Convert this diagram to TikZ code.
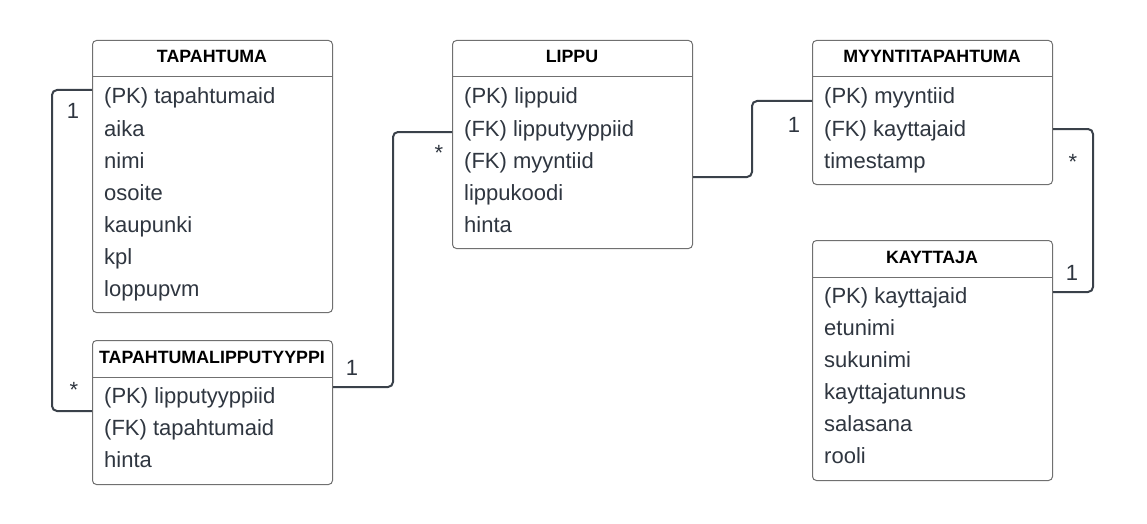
\documentclass[tikz,border=0pt]{standalone}
\usepackage{fontspec}
\setmainfont{Liberation Sans}
\usepackage{xcolor}
\definecolor{rowtext}{HTML}{2F3640}
\definecolor{boxline}{HTML}{707070}
\definecolor{relline}{HTML}{3A414A}
\tikzset{
  table/.style={draw=boxline, line width=1pt, rounded corners=4pt, fill=white,
    minimum width=240pt, inner sep=0pt, anchor=north west},
  title/.style={font=\fontsize{17.8}{20}\selectfont\bfseries, text=black, anchor=base, inner sep=0pt},
  row/.style={font=\fontsize{22}{26}\selectfont, text=rowtext, anchor=base west, inner sep=0pt},
  mult/.style={font=\fontsize{22}{26}\selectfont, text=rowtext, anchor=base, inner sep=0pt},
  relation/.style={draw=relline, line width=2pt, rounded corners=5pt},
}
\begin{document}
\begin{tikzpicture}[x=1pt, y=-1pt]
  \useasboundingbox[fill=white] (0,0) rectangle (1147,524);

  % TAPAHTUMA
  \node[table, minimum height=272pt] (tapahtuma) at (92,40) {};
  \draw[boxline, line width=1pt] (tapahtuma.west |- 0,77) -- (tapahtuma.east |- 0,77);
  \node[title] (tapahtumaT) at (212,63) {TAPAHTUMA};
  \node[row] (tap1) at (104,104) {(PK) tapahtumaid};
  \node[row] (tap2) at (104,136) {aika};
  \node[row] (tap3) at (104,168) {nimi};
  \node[row] (tap4) at (104,200) {osoite};
  \node[row] (tap5) at (104,232) {kaupunki};
  \node[row] (tap6) at (104,264) {kpl};
  \node[row] (tap7) at (104,296) {loppupvm};

  % TAPAHTUMALIPPUTYYPPI
  \node[table, minimum height=144pt] (tlt) at (92,340) {};
  \draw[boxline, line width=1pt] (tlt.west |- 0,377) -- (tlt.east |- 0,377);
  \node[title] (tltT) at (212,363) {TAPAHTUMALIPPUTYYPPI};
  \node[row] (tlt1) at (104,403) {(PK) lipputyyppiid};
  \node[row] (tlt2) at (104,435) {(FK) tapahtumaid};
  \node[row] (tlt3) at (104,467) {hinta};

  % LIPPU
  \node[table, minimum height=208pt] (lippu) at (452,40) {};
  \draw[boxline, line width=1pt] (lippu.west |- 0,77) -- (lippu.east |- 0,77);
  \node[title] (lippuT) at (572,63) {LIPPU};
  \node[row] (lip1) at (464,104) {(PK) lippuid};
  \node[row] (lip2) at (464,136) {(FK) lipputyyppiid};
  \node[row] (lip3) at (464,168) {(FK) myyntiid};
  \node[row] (lip4) at (464,200) {lippukoodi};
  \node[row] (lip5) at (464,232) {hinta};

  % MYYNTITAPAHTUMA
  \node[table, minimum height=144pt] (myynti) at (812,40) {};
  \draw[boxline, line width=1pt] (myynti.west |- 0,77) -- (myynti.east |- 0,77);
  \node[title] (myyntiT) at (932,63) {MYYNTITAPAHTUMA};
  \node[row] (myy1) at (824,104) {(PK) myyntiid};
  \node[row] (myy2) at (824,136) {(FK) kayttajaid};
  \node[row] (myy3) at (824,168) {timestamp};

  % KAYTTAJA
  \node[table, minimum height=240pt] (kayttaja) at (812,240) {};
  \draw[boxline, line width=1pt] (kayttaja.west |- 0,277) -- (kayttaja.east |- 0,277);
  \node[title] (kayttajaT) at (932,263) {KAYTTAJA};
  \node[row] (kay1) at (824,303) {(PK) kayttajaid};
  \node[row] (kay2) at (824,335) {etunimi};
  \node[row] (kay3) at (824,367) {sukunimi};
  \node[row] (kay4) at (824,399) {kayttajatunnus};
  \node[row] (kay5) at (824,431) {salasana};
  \node[row] (kay6) at (824,463) {rooli};

  % relations
  \draw[relation] (tapahtuma.west |- 0,90) -- ++(-40,0) |- (tlt.west |- 0,411);
  \draw[relation] (tlt.east |- 0,387) -- ++(60,0) |- (lippu.west |- 0,132);
  \draw[relation] (lippu.east |- 0,177) -- ++(59,0) |- (myynti.west |- 0,101);
  \draw[relation] (myynti.east |- 0,129) -- ++(40,0) |- (kayttaja.east |- 0,292);

  % multiplicities
  \node[mult] (m1) at (73,118) {1};
  \node[mult] (m2) at (74,397) {*};
  \node[mult] (m3) at (352,375) {1};
  \node[mult] (m4) at (439,160) {*};
  \node[mult] (m5) at (794,132) {1};
  \node[mult] (m6) at (1073,169) {*};
  \node[mult] (m7) at (1072,280) {1};
\end{tikzpicture}
\end{document}
